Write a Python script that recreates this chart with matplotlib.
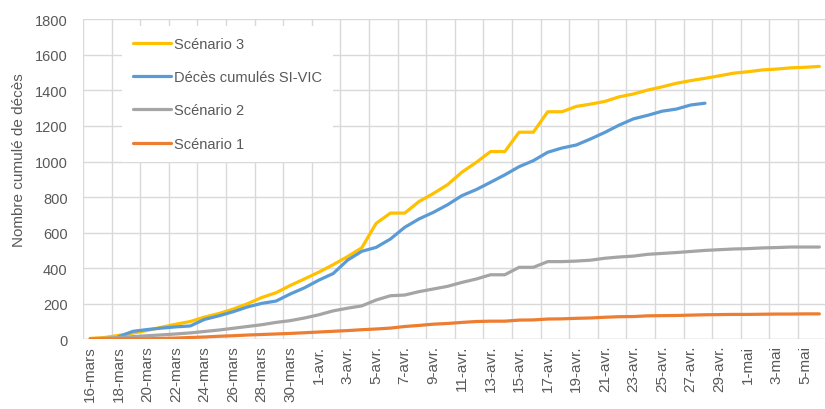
import numpy as np
import pandas as pd
import matplotlib
matplotlib.use("Agg")
import matplotlib.pyplot as plt

plt.rcParams['font.family'] = ['Liberation Sans', 'DejaVu Sans']

# ---------------------------------------------------------------------------
# Data, one value per day 16-mars .. 6-mai
# ---------------------------------------------------------------------------
days = pd.date_range('2020-03-16', '2020-05-06', freq='D')
mois = {3: 'mars', 4: 'avr.', 5: 'mai'}
labels = [f"{d.day}-{mois[d.month]}" for d in days]

scenario3 = [5, 10, 22, 35, 50, 68, 85, 100, 125, 145,
             170, 200, 235, 262, 303, 340, 378, 420, 465, 515,
             652, 710, 710, 775, 820, 870, 940, 995, 1056, 1056,
             1165, 1165, 1280, 1280, 1310, 1323, 1338, 1364, 1380, 1402,
             1420, 1440, 1455, 1468, 1482, 1497, 1505, 1515, 1520, 1527,
             1530, 1535]

sivic = [np.nan, np.nan, 15, 45, 55, 63, 70, 75, 112, 132,
         155, 182, 202, 215, 255, 290, 333, 370, 445, 495,
         517, 564, 630, 677, 714, 757, 808, 842, 883, 925,
         971, 1005, 1052, 1076, 1093, 1127, 1164, 1205, 1240, 1260,
         1283, 1295, 1318, 1328]

scenario2 = [3, 6, 10, 15, 20, 25, 30, 36, 44, 52,
             62, 72, 82, 95, 105, 120, 138, 160, 175, 188,
             221, 245, 249, 268, 283, 298, 320, 339, 363, 363,
             405, 405, 437, 437, 440, 445, 456, 463, 468, 478,
             483, 488, 494, 500, 504, 508, 510, 514, 516, 519,
             519, 519]

scenario1 = [1, 2, 2, 3, 3, 5, 7, 10, 13, 17,
             20, 24, 27, 30, 33, 37, 41, 45, 49, 54,
             58, 63, 72, 78, 85, 89, 95, 100, 102, 102,
             108, 109, 114, 115, 118, 120, 124, 127, 128, 132,
             133, 134, 136, 138, 139, 140, 140, 141, 142, 142,
             143, 143]

series = [
    ('Scénario 3', scenario3, '#FFC000'),
    ('Décès cumulés SI-VIC', sivic, '#5B9BD5'),
    ('Scénario 2', scenario2, '#A5A5A5'),
    ('Scénario 1', scenario1, '#ED7D31'),
]

# ---------------------------------------------------------------------------
# Figure
# ---------------------------------------------------------------------------
W, H = 825, 410
fig = plt.figure(figsize=(W / 100, H / 100), dpi=100)
ax = fig.add_axes([83 / W, (H - 340.3) / H, 743.5 / W, 320 / H])

txt = '#595959'
grid = '#D9D9D9'

for name, vals, col in series:
    ax.plot(np.arange(len(vals)), vals, color=col, lw=2.3, label=name,
            solid_joinstyle='round', solid_capstyle='round', zorder=3)

n = len(labels)
ax.set_xlim(-0.5, n - 0.5)
ax.set_ylim(0, 1800)
ax.set_yticks(np.arange(0, 1801, 200))

ax.set_xticks(np.arange(0, n, 2))
ax.set_xticklabels(labels[::2], rotation=90, fontsize=11, color=txt)
ax.set_xticks(np.arange(-0.5, n, 2), minor=True)

ax.tick_params(axis='x', which='both', length=0, pad=4)
ax.tick_params(axis='y', length=0, pad=11, labelsize=10.5, labelcolor=txt)

ax.grid(axis='y', which='major', color=grid, lw=1)
ax.grid(axis='x', which='minor', color=grid, lw=1)
ax.set_axisbelow(True)
for s in ax.spines.values():
    s.set_visible(False)
ax.axhline(0, color=grid, lw=1, zorder=1)

fig.text(19 / W, 1 - 160 / H, 'Nombre cumulé de décès', rotation=90,
         ha='center', va='center', fontsize=11, color=txt)

leg = ax.legend(loc='upper left', bbox_to_anchor=(0.0525, 0.979),
                borderaxespad=0, frameon=True, fontsize=10.5,
                handlelength=2.6, handletextpad=0.2, labelspacing=1.32,
                borderpad=0.75)
frame = leg.get_frame()
frame.set_facecolor('white')
frame.set_edgecolor('none')
frame.set_alpha(1)
frame.set_boxstyle('square', pad=0)
for t in leg.get_texts():
    t.set_color(txt)
for line in leg.get_lines():
    line.set_linewidth(2.3)

fig.savefig('out.png', dpi=100, facecolor='white')
